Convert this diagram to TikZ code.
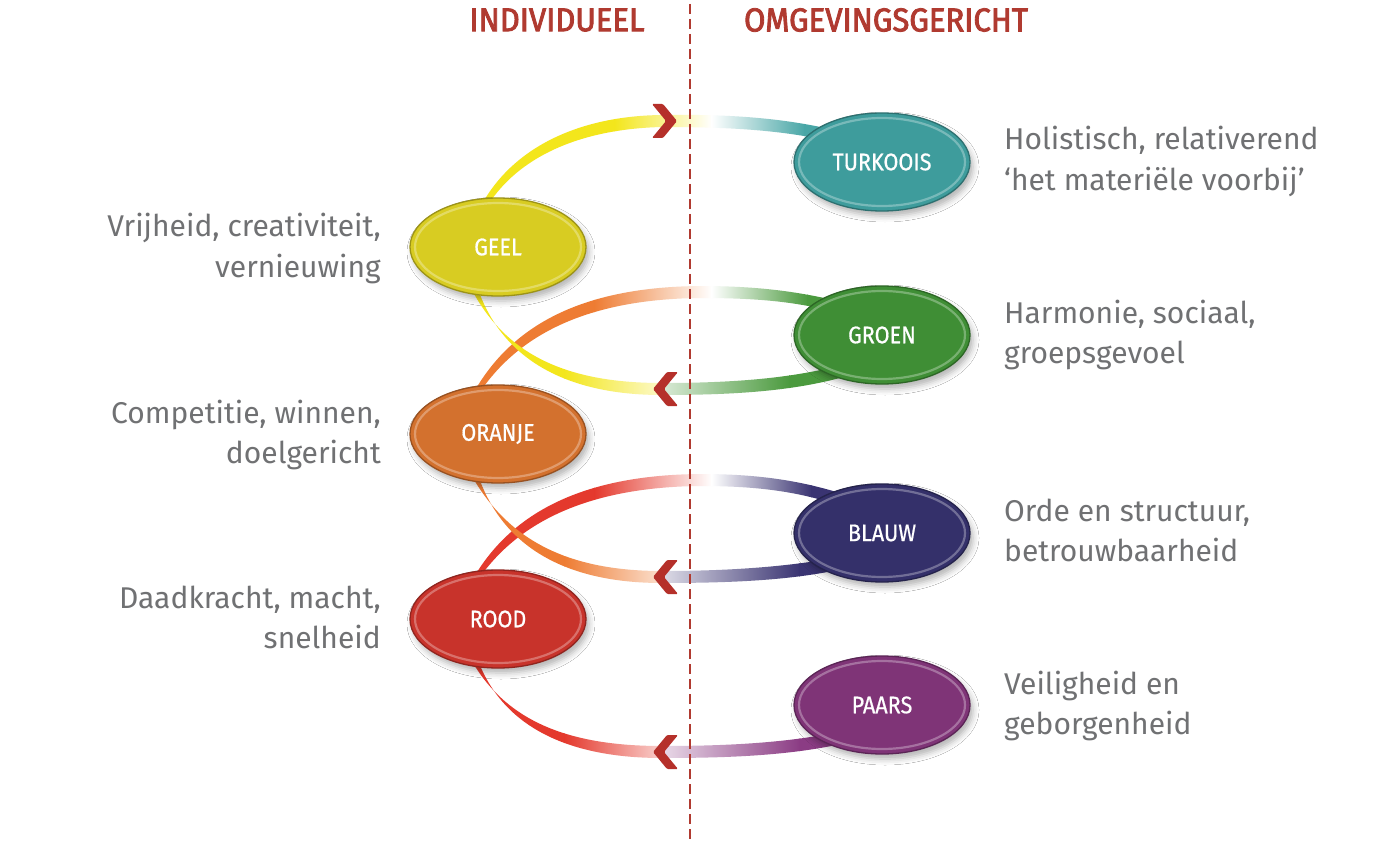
\documentclass[tikz,border=0pt]{standalone}
\usepackage{fontspec}
\setmainfont{Fira Sans}
\newfontfamily\labfont[FakeStretch=0.9,FakeBold=0.6]{Fira Sans}
\newfontfamily\headfont[FakeStretch=0.94,FakeBold=2.5]{Fira Sans}
\usetikzlibrary{shapes.geometric,shadows.blur}
\definecolor{txtgrey}{HTML}{707173}
\definecolor{headred}{HTML}{B03A30}
\definecolor{chevred}{HTML}{B5302A}
\definecolor{cturk}{HTML}{3E9C9C}
\definecolor{cgeel}{HTML}{D8CC22}
\definecolor{cgroen}{HTML}{3F8E35}
\definecolor{coranje}{HTML}{D3712E}
\definecolor{cblauw}{HTML}{34306A}
\definecolor{crood}{HTML}{C8332B}
\definecolor{cpaars}{HTML}{7F3477}
\definecolor{byel}{HTML}{F3E61C}
\definecolor{bora}{HTML}{EE7C33}
\definecolor{bred}{HTML}{E4392D}
\definecolor{bturk}{HTML}{48A6A6}
\definecolor{bgroen}{HTML}{4B9A3E}
\definecolor{bblauw}{HTML}{3A3472}
\definecolor{bpaars}{HTML}{8B3C84}
% #1 c1, #2 x1, #3 colour at xm (left), #4 xm, #5 colour at xm (right), #6 x3, #7 c2, #8 ytop, #9 ybot
\newcommand\bandfill[9]{%
  \fill[#1] (466,#8) rectangle (#2,#9);
  \shade[left color=#1,right color=#3] (#2-0.6,#8) rectangle (#4,#9);
  \shade[left color=#5,right color=#7] (#4-0.6,#8) rectangle (#6,#9);
  \fill[#7] (#6-0.6,#8) rectangle (870,#9);}
\begin{document}
\begin{tikzpicture}[x=1pt,y=-1pt,
  ell/.style={ellipse, minimum width=176pt, minimum height=98pt, inner sep=0pt,
    fill=#1, draw=#1!72!black, line width=1.3pt, text=white,
    font=\labfont\fontsize{24}{28}\selectfont,
    blur shadow={shadow xshift=3pt, shadow yshift=-5pt, shadow blur radius=6pt, shadow opacity=30},
    path picture={\draw[white, opacity=.3, line width=2.2pt] (path picture bounding box.center) ellipse (83pt and 44pt);}},
  lbl/.style={text=txtgrey, font=\fontsize{30}{34}\selectfont, inner sep=0pt},
  head/.style={text=headred, font=\headfont\fontsize{33}{38}\selectfont, inner sep=0pt},
  chev/.style={fill=chevred, rounded corners=1.2pt},
  divider/.style={draw=headred, line width=2.4pt, dash pattern=on 10pt off 5pt}]
\useasboundingbox (0,0) rectangle (1386,842);
\fill[white] (0,0) rectangle (1386,842);

% ---------- bands (ascending) ----------
% A: GEEL -> TURKOOIS
\begin{scope}
\clip (482,204) .. controls (512,150) and (575,116) .. (662,115) .. controls (730,114) and (785,118) .. (838,131)
  -- (838,143) .. controls (785,130) and (730,127) .. (662,127) .. controls (578,129) and (518,158) .. (488,205) -- cycle;
\bandfill{byel}{615}{white}{712}{white}{805}{bturk}{100}{210}
\end{scope}
% C: ORANJE -> GROEN
\begin{scope}
\clip (474,392) .. controls (515,320) and (590,287) .. (700,286) .. controls (760,286) and (800,292) .. (842,302)
  -- (842,314) .. controls (800,302) and (760,298) .. (700,298) .. controls (595,299) and (522,330) .. (480,392) -- cycle;
\bandfill{bora}{595}{white}{712}{white}{808}{bgroen}{280}{400}
\end{scope}
% E: ROOD -> BLAUW
\begin{scope}
\clip (474,577) .. controls (515,508) and (590,475) .. (700,474) .. controls (760,474) and (805,481) .. (852,497)
  -- (852,510) .. controls (805,492) and (760,486) .. (700,486) .. controls (595,487) and (522,518) .. (480,577) -- cycle;
\bandfill{bred}{595}{white}{712}{white}{812}{bblauw}{468}{585}
\end{scope}

% ---------- bands (descending) ----------
% B: GEEL -> GROEN (arrow left)
\begin{scope}
\clip (473,292) .. controls (510,360) and (575,383) .. (662,383) .. controls (735,383) and (795,378) .. (845,364)
  -- (847,376) .. controls (795,391) and (735,395) .. (662,395) .. controls (570,395) and (505,362) .. (479,292) -- cycle;
\bandfill{byel}{565}{byel!22!white}{664}{bgroen!22!white}{790}{bgroen}{285}{400}
\end{scope}
% D: ORANJE -> BLAUW (arrow left)
\begin{scope}
\clip (473,478) .. controls (512,545) and (575,571) .. (662,571) .. controls (735,571) and (795,566) .. (845,556)
  -- (847,568) .. controls (795,580) and (735,583) .. (662,583) .. controls (570,583) and (505,550) .. (479,478) -- cycle;
\bandfill{bora}{565}{bora!22!white}{664}{bblauw!18!white}{800}{bblauw}{470}{590}
\end{scope}
% F: ROOD -> PAARS (arrow left)
\begin{scope}
\clip (473,663) .. controls (510,725) and (575,746) .. (662,746) .. controls (735,746) and (795,742) .. (848,730)
  -- (850,742) .. controls (795,755) and (735,758) .. (662,758) .. controls (570,758) and (505,728) .. (479,663) -- cycle;
\bandfill{bred}{565}{bred!22!white}{664}{bpaars!20!white}{800}{bpaars}{655}{765}
\end{scope}

% ---------- divider ----------
\coordinate (dtop) at (690,4);
\coordinate (dbot) at (690,840);
\draw[divider] (dtop) -- (dbot);

% ---------- chevrons ----------
\fill[chev] (652,104) -- (663,104) -- (677,121) -- (663,138) -- (652,138) -- (666,121) -- cycle;
\foreach \yy in {389,577,752}{
  \fill[chev] (678,\yy-17) -- (667,\yy-17) -- (653,\yy) -- (667,\yy+17) -- (678,\yy+17) -- (664,\yy) -- cycle;
}

% ---------- ellipses ----------
\node[ell=cturk]   (turkoois) at (882,162) {TURKOOIS};
\node[ell=cgeel]   (geel)     at (498,247) {GEEL};
\node[ell=cgroen]  (groen)    at (882,335) {GROEN};
\node[ell=coranje] (oranje)   at (498,434) {ORANJE};
\node[ell=cblauw]  (blauw)    at (882,533) {BLAUW};
\node[ell=crood]   (rood)     at (498,619) {ROOD};
\node[ell=cpaars]  (paars)    at (882,705) {PAARS};

% ---------- headings ----------
\node[head] (hind) at (557,20) {INDIVIDUEEL};
\node[head] (homg) at (886,20) {OMGEVINGSGERICHT};

% ---------- left texts ----------
\node[lbl, anchor=base east] (l1a) at (381,237) {Vrijheid, creativiteit,};
\node[lbl, anchor=base east] (l1b) at (381,277) {vernieuwing};
\node[lbl, anchor=base east] (l2a) at (381,423) {Competitie, winnen,};
\node[lbl, anchor=base east] (l2b) at (381,463) {doelgericht};
\node[lbl, anchor=base east] (l3a) at (381,608) {Daadkracht, macht,};
\node[lbl, anchor=base east] (l3b) at (381,648) {snelheid};

% ---------- right texts ----------
\node[lbl, anchor=base west] (r1a) at (1004,150) {Holistisch, relativerend};
\node[lbl, anchor=base west] (r1b) at (1004,191) {‘het materiële voorbij’};
\node[lbl, anchor=base west] (r2a) at (1004,323) {Harmonie, sociaal,};
\node[lbl, anchor=base west] (r2b) at (1004,363) {groepsgevoel};
\node[lbl, anchor=base west] (r3a) at (1004,521) {Orde en structuur,};
\node[lbl, anchor=base west] (r3b) at (1004,561) {betrouwbaarheid};
\node[lbl, anchor=base west] (r4a) at (1004,694) {Veiligheid en};
\node[lbl, anchor=base west] (r4b) at (1004,734) {geborgenheid};
\end{tikzpicture}
\end{document}
